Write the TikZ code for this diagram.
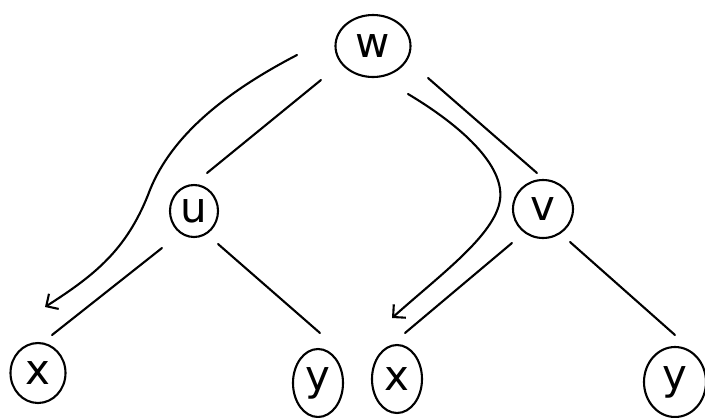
\documentclass[tikz,border=0pt]{standalone}
\usepackage{fontspec}
\setmainfont{DejaVu Sans}
\usetikzlibrary{shapes.geometric,arrows.meta,calc}
\begin{document}
\begin{tikzpicture}[x=1pt,y=-1pt,
  vert/.style={ellipse,draw,line width=2.1pt,inner sep=0pt,font=\fontsize{42}{42}\selectfont},
  edge/.style={line width=2.1pt,line cap=round},
  walk/.style={line width=2.1pt,line cap=round,-{Straight Barb[length=9pt,width=18pt,line width=2.1pt]}}]
\useasboundingbox (0,0) rectangle (705,418);
\node[vert,minimum width=75pt,minimum height=62pt] (w) at (373,46) {w};
\node[vert,minimum width=48pt,minimum height=52pt] (u) at (194,211) {u};
\node[vert,minimum width=60pt,minimum height=58pt] (v) at (543,209) {v};
\node[vert,minimum width=55pt,minimum height=60pt] (xa) at (38,373) {x};
\node[vert,minimum width=50pt,minimum height=68pt] (ya) at (318,383) {y};
\node[vert,minimum width=50pt,minimum height=68pt] (xb) at (397,379) {x};
\node[vert,minimum width=62pt,minimum height=70pt] (yb) at (675,382) {y};
\draw[edge] ($(w)+(-52,34)$) -- ($(u)+(13,-38)$);
\draw[edge] ($(w)+(55,32)$) -- ($(v)+(-6,-36)$);
\draw[edge] ($(u)+(-32,37)$) -- ($(xa)+(14,-38)$);
\draw[edge] ($(u)+(24,33)$) -- ($(ya)+(2,-50)$);
\draw[edge] ($(v)+(-31,34)$) -- ($(xb)+(8,-46)$);
\draw[edge] ($(v)+(27,33)$) -- ($(yb)+(0,-47)$);
\draw[walk] ($(w)+(-76,9)$) .. controls (220,95) and (168,140) .. (148,195)
  .. controls (126,250) and (95,275) .. ($(xa)+(7,-66)$);
\draw[walk] ($(w)+(35,48)$) .. controls (460,125) and (505,165) .. (500,200)
  .. controls (495,235) and (440,275) .. ($(xb)+(-5,-61)$);
\end{tikzpicture}
\end{document}
